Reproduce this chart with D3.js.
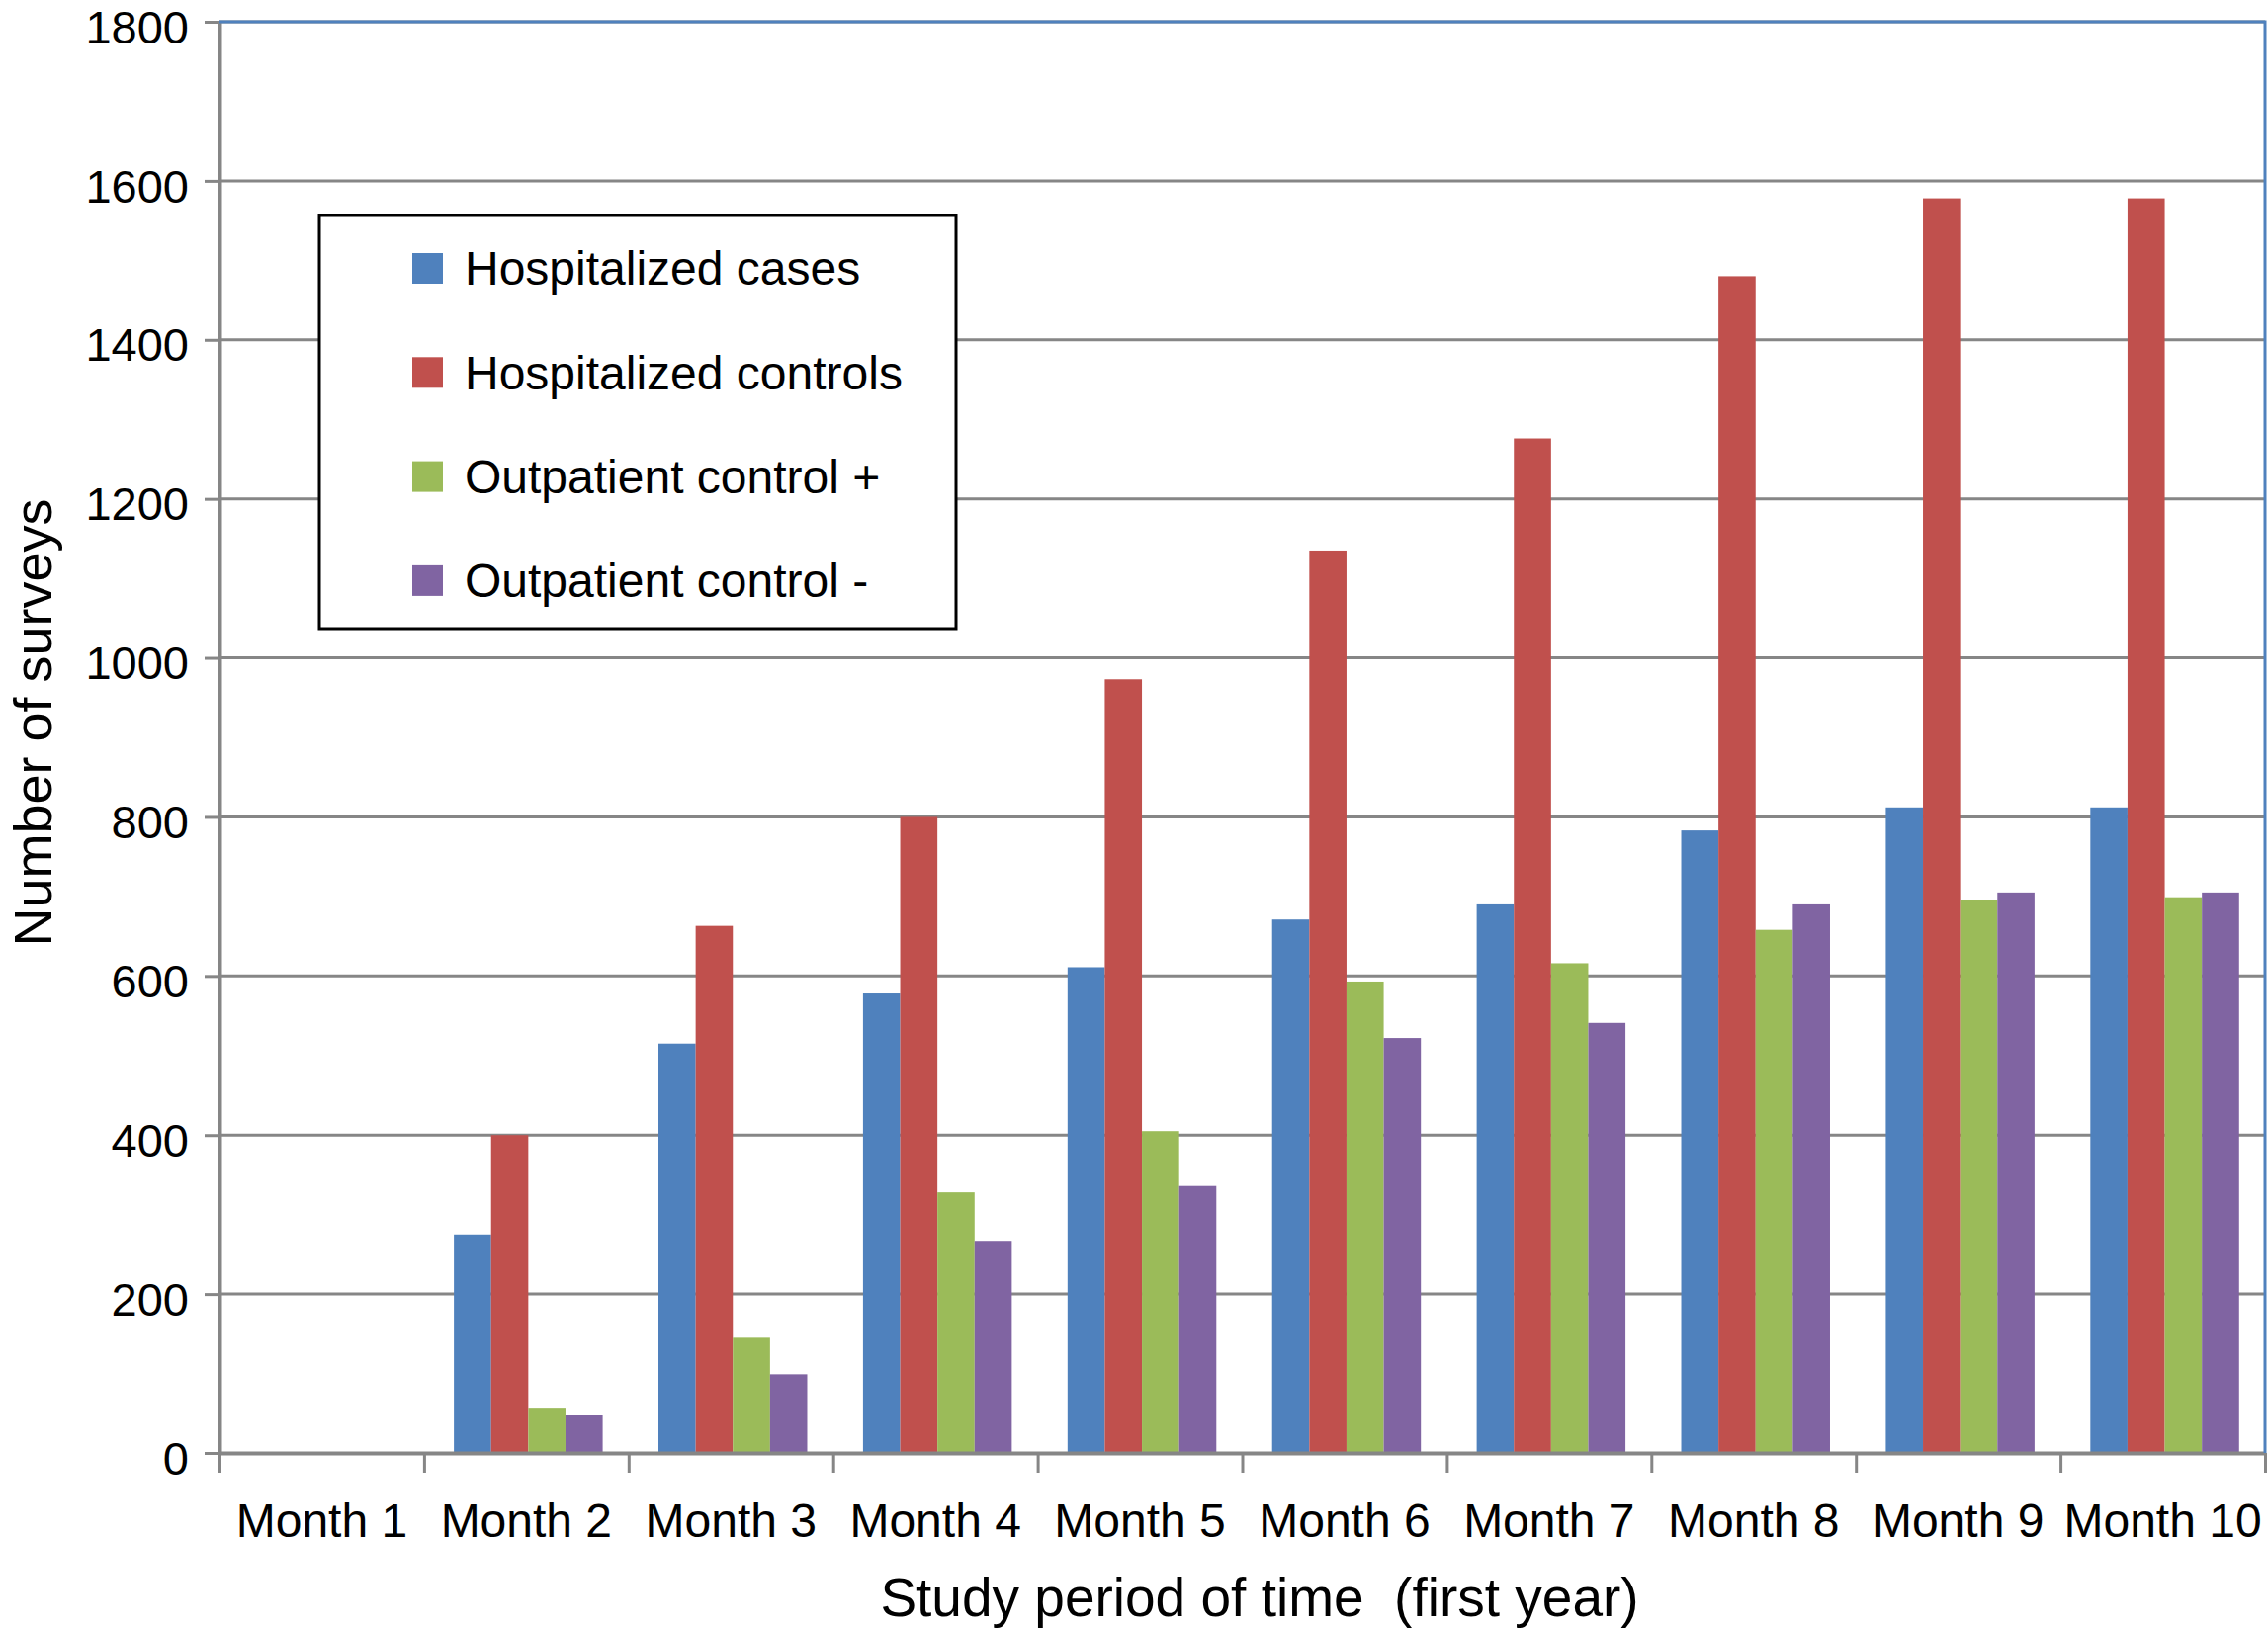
<!DOCTYPE html>
<html lang="en">
<head>
  <meta charset="UTF-8">
  <title>Number of surveys</title>
  <style>
    body {
      margin: 0;
      background: #fff;
    }

    text {
      font-family: "Liberation Sans", Arial, sans-serif;
      fill: #000;
    }

    .grid line {
      stroke: #868686;
      stroke-width: 3;
    }
  </style>
</head>
<body>
  <div class="warp"></div>
  <script src="https://cdn.jsdelivr.net/npm/d3@7"></script>
  <script>
    var months = ['Month 1', 'Month 2', 'Month 3', 'Month 4', 'Month 5',
      'Month 6', 'Month 7', 'Month 8', 'Month 9', 'Month 10'];
    var seriesNames = ['Hospitalized cases', 'Hospitalized controls',
      'Outpatient control +', 'Outpatient control -'];
    var seriesColors = ['#4f81bd', '#c0504d', '#9bbb59', '#8064a2'];

    var hospCases = [0, 275, 515, 578, 611, 671, 690, 783, 812, 812];
    var hospControls = [0, 400, 663, 800, 973, 1135, 1276, 1480, 1578, 1578];
    var outControlPlus = [0, 57, 145, 328, 405, 593, 616, 658, 696, 699];
    var outControlMinus = [0, 48, 99, 267, 336, 522, 541, 690, 705, 705];

    var yTicks = [0, 200, 400, 600, 800, 1000, 1200, 1400, 1600, 1800];

    var width = 2294, height = 1648;
    var plot = { left: 222, right: 2291, top: 22, bottom: 1470 };

    var svg = d3.select('.warp').append('svg')
      .attr('width', width)
      .attr('height', height);

    var x0 = d3.scaleBand().domain(months).range([plot.left, plot.right]);
    // excel style gap width 150%
    var gap = x0.bandwidth() * 1.5 / 5.5;
    var x1 = d3.scaleBand().domain(seriesNames).range([gap / 2 + 2, x0.bandwidth() - gap / 2 + 2]);
    var y = d3.scaleLinear().domain([0, 1800]).range([plot.bottom, plot.top]);

    // gridlines
    svg.append('g')
      .attr('class', 'grid')
      .selectAll('line')
      .data(yTicks.slice(1))
      .enter()
      .append('line')
      .attr('x1', plot.left)
      .attr('x2', plot.right)
      .attr('y1', d => y(d))
      .attr('y2', d => y(d));

    // bars
    var allSeries = [hospCases, hospControls, outControlPlus, outControlMinus];
    var rows = [];
    months.forEach(function (m, i) {
      seriesNames.forEach(function (s, k) {
        rows.push({ month: m, name: s, color: seriesColors[k], value: allSeries[k][i] });
      });
    });

    svg.append('g')
      .selectAll('rect')
      .data(rows.filter(d => d.value > 0))
      .enter()
      .append('rect')
      .attr('x', d => x0(d.month) + x1(d.name))
      .attr('width', x1.bandwidth())
      .attr('y', d => y(d.value))
      .attr('height', d => y(0) - y(d.value))
      .attr('fill', d => d.color);

    // y axis
    var yAxis = svg.append('g')
      .attr('transform', 'translate(' + plot.left + ',0)')
      .call(d3.axisLeft(y).tickValues(yTicks).tickFormat(d3.format('d'))
        .tickSize(15).tickSizeOuter(0).tickPadding(16));
    yAxis.selectAll('line').attr('stroke', '#868686').attr('stroke-width', 3);
    yAxis.select('.domain').attr('stroke', '#868686').attr('stroke-width', 4);
    yAxis.selectAll('text')
      .attr('dy', '0.45em')
      .style('font-size', '47px')
      .style('font-family', '"Liberation Sans", Arial, sans-serif');

    // x axis tick marks at category boundaries
    var xb = d3.scaleLinear().domain([0, months.length]).range([plot.left, plot.right]);
    var xTicks = svg.append('g')
      .attr('transform', 'translate(0,' + plot.bottom + ')')
      .call(d3.axisBottom(xb).tickValues(d3.range(months.length + 1)).tickSize(20).tickSizeOuter(0).tickFormat(''));
    xTicks.selectAll('line').attr('stroke', '#868686').attr('stroke-width', 3);
    xTicks.select('.domain').attr('stroke', '#868686').attr('stroke-width', 4);

    var xAxis = svg.append('g')
      .attr('transform', 'translate(0,' + plot.bottom + ')')
      .call(d3.axisBottom(x0).tickSize(0).tickPadding(51));
    xAxis.select('.domain').remove();
    xAxis.selectAll('text')
      .style('font-size', '48px')
      .style('font-family', '"Liberation Sans", Arial, sans-serif');

    // plot border top & right
    svg.append('path')
      .attr('d', 'M' + plot.left + ',' + plot.top + 'H' + plot.right + 'V' + plot.bottom)
      .attr('fill', 'none')
      .attr('stroke', '#4f81bd')
      .attr('stroke-width', 3);

    // axis titles
    svg.append('text')
      .attr('x', 1274)
      .attr('y', 1635)
      .attr('text-anchor', 'middle')
      .style('font-size', '55px')
      .style('white-space', 'pre')
      .text('Study period of time  (first year)');

    svg.append('text')
      .attr('transform', 'translate(52,731) rotate(-90)')
      .attr('text-anchor', 'middle')
      .style('font-size', '54px')
      .text('Number of surveys');

    // legend
    var legend = svg.append('g').attr('class', 'legend');
    legend.append('rect')
      .attr('x', 323)
      .attr('y', 218)
      .attr('width', 644)
      .attr('height', 418)
      .attr('fill', '#fff')
      .attr('stroke', '#000')
      .attr('stroke-width', 3);

    var items = legend.selectAll('g.item')
      .data(seriesNames)
      .enter()
      .append('g')
      .attr('class', 'item')
      .attr('transform', (d, i) => 'translate(0,' + (271 + i * 105.3) + ')');
    items.append('rect')
      .attr('x', 417)
      .attr('y', -15)
      .attr('width', 31)
      .attr('height', 31)
      .attr('fill', (d, i) => seriesColors[i]);
    items.append('text')
      .attr('x', 470)
      .attr('dy', '0.36em')
      .style('font-size', '48px')
      .text(d => d);
  </script>
</body>
</html>
